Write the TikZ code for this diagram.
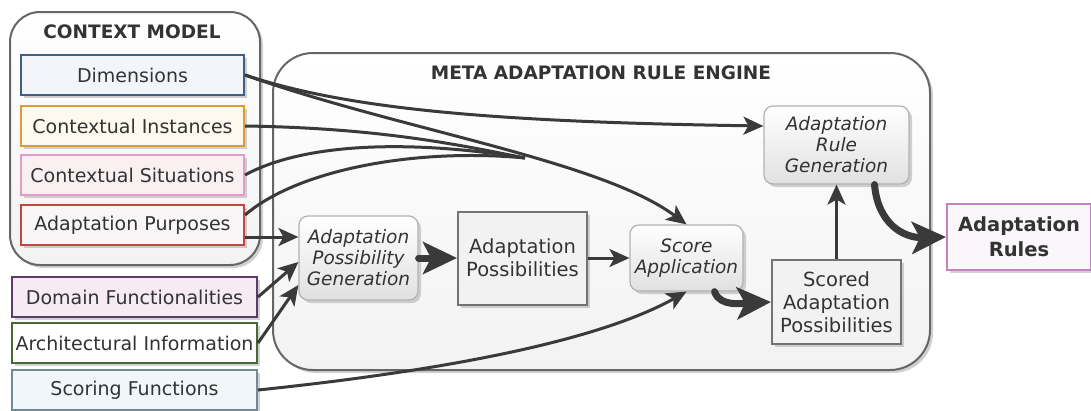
\documentclass[tikz,border=0pt]{standalone}
\usepackage{fontspec}
\setmainfont{DejaVu Sans}
\usetikzlibrary{arrows.meta,shadows,calc}

\definecolor{txt}{HTML}{333333}
\definecolor{edgec}{HTML}{3A3A3A}
\definecolor{dimD}{HTML}{3E5F86}\definecolor{dimF}{HTML}{F2F6FB}
\definecolor{insD}{HTML}{DC9E33}\definecolor{insF}{HTML}{FEF9EE}
\definecolor{sitD}{HTML}{E39BC9}\definecolor{sitF}{HTML}{FAEFF1}
\definecolor{purD}{HTML}{C4473F}\definecolor{purF}{HTML}{F8F6F6}
\definecolor{domD}{HTML}{5B3D68}\definecolor{domF}{HTML}{F6EAF3}
\definecolor{arcD}{HTML}{446A35}\definecolor{arcF}{HTML}{FFFFFF}
\definecolor{scoD}{HTML}{6F8C91}\definecolor{scoF}{HTML}{F0F7FA}
\definecolor{rulD}{HTML}{C483C0}\definecolor{rulF}{HTML}{FAF7FA}

\tikzset{
  shade/.style={drop shadow={shadow xshift=3pt,shadow yshift=-3pt,fill=black!30,opacity=0.6}},
  container/.style={draw=black!60,line width=2pt,rounded corners=#1,
    top color=white,bottom color=black!5,shade},
  ctitle/.style={font=\bfseries\fontsize{18.5}{21}\selectfont,text=txt},
  ctxbox/.style={draw=#1D,fill=#1F,line width=2pt,minimum width=223pt,minimum height=40pt,
    inner sep=0pt,font=\fontsize{19}{23}\selectfont,text=txt,shade},
  inbox/.style={ctxbox=#1,minimum width=245pt},
  proc/.style={draw=black!30,line width=1.2pt,rounded corners=9pt,top color=white,
    bottom color=black!12,font=\itshape\fontsize{18.5}{21}\selectfont,text=txt,
    align=center,inner sep=0pt,shade},
  datab/.style={draw=black!55,line width=2pt,fill=black!5,align=center,inner sep=0pt,
    font=\fontsize{19.5}{23}\selectfont,text=txt,shade},
  flow/.style={draw=edgec,line width=3pt,-{Stealth[length=20pt,width=18pt,inset=5pt]}},
  link/.style={draw=edgec,line width=3pt},
  bigflow/.style={draw=edgec,line width=7pt,line cap=round,
    -{Stealth[length=34pt,width=32pt,inset=8pt]}},
}

\begin{document}
\begin{tikzpicture}[x=1pt,y=-1pt]
\useasboundingbox (0,0) rectangle (1091,410);

% containers
\node[container=30pt,minimum width=250pt,minimum height=253pt] (cm) at (135,138.5) {};
\node[ctitle] (cmt) at (132,32) {CONTEXT MODEL};
\node[container=40pt,minimum width=657pt,minimum height=317pt] (eng) at (601.5,211.5) {};
\node[ctitle] (engt) at (601,73) {META ADAPTATION RULE ENGINE};

% context model entries
\node[ctxbox=dim] (dim) at (132.5,75) {Dimensions};
\node[ctxbox=ins] (ins) at (132.5,126) {Contextual Instances};
\node[ctxbox=sit] (sit) at (132.5,175) {Contextual Situations};
\node[ctxbox=pur] (pur) at (132.5,225) {Adaptation Purposes};

% further inputs
\node[inbox=dom] (dom) at (134.5,297) {Domain Functionalities};
\node[inbox=arc] (arc) at (134.5,343) {Architectural Information};
\node[inbox=sco] (sco) at (134.5,390) {Scoring Functions};

% engine steps
\node[proc,minimum width=119pt,minimum height=84pt] (apg) at (358.5,258)
  {Adaptation\\Possibility\\Generation};
\node[datab,minimum width=129pt,minimum height=93pt] (ap) at (522.5,258)
  {Adaptation\\Possibilities};
\node[proc,minimum width=113pt,minimum height=66pt] (sa) at (686.5,258)
  {Score\\Application};
\node[proc,minimum width=145pt,minimum height=78pt] (arg) at (836.5,145)
  {Adaptation\\Rule\\Generation};
\node[datab,minimum width=129pt,minimum height=84pt] (sap) at (836.5,302)
  {Scored\\Adaptation\\Possibilities};

% output
\node[draw=rulD,fill=rulF,line width=2pt,minimum width=144pt,minimum height=66pt,
  align=center,inner sep=0pt,font=\bfseries\fontsize{19.5}{25}\selectfont,text=txt,shade]
  (ar) at (1019,237) {Adaptation\\Rules};

% bundle point of the context edges
\coordinate (jn) at (525,158);

% connectors
\draw[flow] (dim.east) .. controls (350,110) and (500,122) .. ([yshift=19pt]arg.west);
\draw[flow] (dim.east) .. controls (400,130) and (600,160) .. (sa.north);
\draw[link] (ins.east) .. controls (380,128) and (460,145) .. (jn);
\draw[link] (sit.east) .. controls (300,145) and (400,138) .. (jn);
\draw[link] ([yshift=10pt]pur.east) .. controls (300,168) and (420,148) .. (jn);
\draw[flow] ([yshift=-12pt]pur.east) -- ([yshift=21pt]apg.west);
\draw[flow] (dom.east) -- ([yshift=-4pt]apg.west);
\draw[flow] (arc.east) -- ([yshift=-27pt]apg.west);
\draw[flow] (sco.east) .. controls (450,370) and (600,340) .. (sa.south);

\draw[bigflow] (apg.east) -- (ap.west);
\draw[flow] (ap.east) -- (sa.west);
\draw[bigflow] ([xshift=28pt]sa.south) .. controls (720,308) and (745,303) .. (sap.west);
\draw[flow] (sap.north) -- (arg.south);
\draw[bigflow] ([xshift=38pt]arg.south) .. controls (878,225) and (905,238) .. (ar.west);
\end{tikzpicture}
\end{document}
